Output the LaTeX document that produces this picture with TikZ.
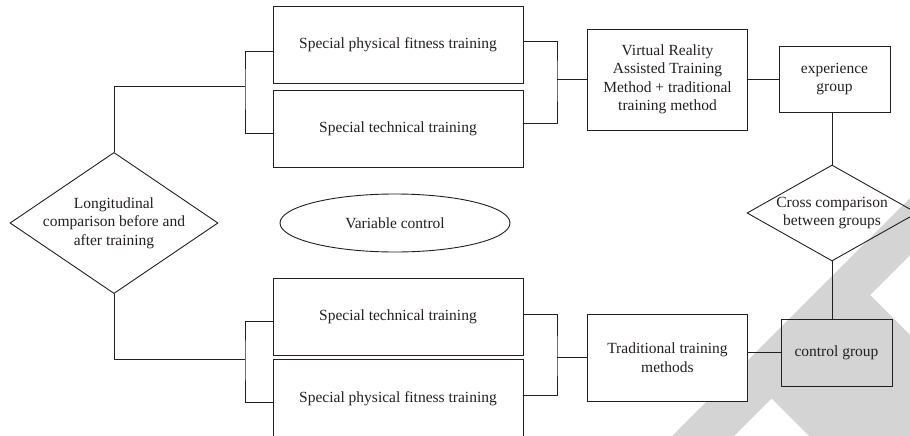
\documentclass[tikz,border=0pt]{standalone}
\usepackage{fontspec}
\setmainfont{Liberation Serif}
\usetikzlibrary{positioning,shapes.geometric}
\definecolor{markgray}{RGB}{212,212,212}
\definecolor{inkgray}{RGB}{35,31,32}

\begin{document}
\begin{tikzpicture}[x=1pt, y=-1pt, line width=0.9pt, color=inkgray,
    font=\fontsize{15.5}{18.5}\selectfont,
    trainbox/.style={rectangle, draw, minimum width=250pt, minimum height=77pt, align=center},
    methodbox/.style={rectangle, draw, minimum width=160pt, align=center},
    groupbox/.style={rectangle, draw, minimum width=111pt, minimum height=66pt, align=center},
    judge/.style={diamond, draw, inner xsep=-20pt, inner ysep=-6pt, align=center}]
    \useasboundingbox (0,0) rectangle (910,436);

    % Watermark
    \fill[markgray] (672,436) -- (910,198) -- (910,255) -- (870,295) -- (910,335) -- (910,436)
        -- (809,436) -- (771.5,398.5) -- (734,436) -- cycle;

    % Experience branch
    \node[trainbox] (fitA) at (398,45) {Special physical fitness training};
    \node[trainbox, below=6pt of fitA] (techA) {Special technical training};
    \node[methodbox, minimum height=101pt] (vr) at (667.5,79.5) {Virtual Reality\\Assisted Training\\Method + traditional\\training method};
    \node[groupbox] (exp) at (834.5,79) {experience\\group};

    % Control branch
    \node[trainbox] (techB) at (398,316.5) {Special technical training};
    \node[trainbox, below=4pt of techB] (fitB) {Special physical fitness training};
    \node[methodbox, minimum height=87pt, fill=white] (trad) at (667.5,357.5) {Traditional training\\methods};
    \node[groupbox, minimum height=67pt] (ctrl) at (836.5,352.5) {control group};

    % Comparisons
    \node[judge, minimum width=208pt, minimum height=134pt] (long) at (114,223) {Longitudinal\\comparison before and\\after training};
    \node[judge, minimum width=170pt, minimum height=96pt] (cross) at (832,213) {Cross comparison\\between groups};
    \node[ellipse, draw, minimum width=230pt, minimum height=58pt] (var) at (395,223) {Variable control};

    % Brackets
    \coordinate (lt) at (245,86);
    \coordinate (rt) at (557,79.5);
    \coordinate (lb) at (245,359);
    \coordinate (rb) at (557,357.5);

    \draw (long.north) |- (lt);
    \draw ([yshift=-6pt]fitA.west) -| (lt) |- ([yshift=-4.5pt]techA.west);
    \draw ([yshift=4pt]fitA.east) -| (rt) |- ([yshift=5.5pt]techA.east);
    \draw (rt) -- (vr.west);
    \draw (vr.east) -- (vr.east -| exp.west);
    \draw (cross.north |- exp.south) -- (cross.north);

    \draw (long.south) |- (lb);
    \draw ([yshift=-4.5pt]techB.west) -| (lb) |- ([yshift=-4.5pt]fitB.west);
    \draw ([yshift=2.5pt]techB.east) -| (rb) |- ([yshift=2.5pt]fitB.east);
    \draw (rb) -- (trad.west);
    \draw (trad.east |- ctrl.west) -- (ctrl.west);
    \draw (cross.south) -- (cross.south |- ctrl.north);
\end{tikzpicture}
\end{document}
